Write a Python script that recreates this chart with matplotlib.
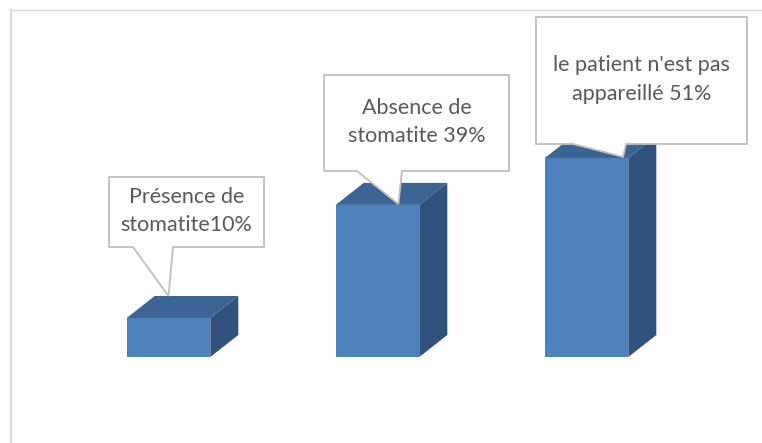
import matplotlib.pyplot as plt
import matplotlib.patches as patches
import numpy as np

# data
categories = ["Présence de\nstomatite10%", "Absence de\nstomatite 39%", "le patient n'est pas\nappareillé 51%"]
values = [10, 39, 51]

W, H = 762, 443
fig = plt.figure(figsize=(W / 100, H / 100), dpi=100)
ax = fig.add_axes([0, 0, 1, 1])
# pixel layout: baseline at y=357, 3.9 px per %, bars 209 px apart
ax.set_xlim(-168.5 / 209, (W - 168.5) / 209)
ax.set_ylim(-(H - 357) / 3.9, 357 / 3.9)
ax.axis('off')

bar_w = 0.4
dx = 28 / 209.0   # depth in x (category units)
dy = 22 / 3.9     # depth in y (% units)
front_c = '#4F81BD'
top_c = '#3C6596'
side_c = '#31527C'

for i, v in enumerate(values):
    x0 = i - bar_w / 2
    x1 = i + bar_w / 2
    ax.add_patch(patches.Polygon([(x0, 0), (x1, 0), (x1, v), (x0, v)],
                                 closed=True, fc=front_c, ec='none', zorder=2))
    ax.add_patch(patches.Polygon([(x0, v), (x1, v), (x1 + dx, v + dy), (x0 + dx, v + dy)],
                                 closed=True, fc=top_c, ec='none', zorder=2))
    ax.add_patch(patches.Polygon([(x1, 0), (x1 + dx, dy), (x1 + dx, v + dy), (x1, v)],
                                 closed=True, fc=side_c, ec='none', zorder=2))

# callout boxes in pixel coords (left, top, right, bottom) and tail base x positions
boxes = [(109, 177, 264, 247), (324, 75, 509, 171), (536, 17, 747, 144)]
tail_base = [(133, 173), (357, 402), (573, 626)]
tip_off = [(0.0, dy), (0.1, 0.2), (0.175, 0.3)]

inv = ax.transData.inverted()

def px2data(px, py):
    return tuple(inv.transform((px, H - py)))

for i, v in enumerate(values):
    l, t, r, b = boxes[i]
    tl, tr = tail_base[i]
    tip = (i + tip_off[i][0], v + tip_off[i][1])
    pts = [px2data(l, t), px2data(r, t), px2data(r, b), px2data(tr, b), tip,
           px2data(tl, b), px2data(l, b)]
    ax.add_patch(patches.Polygon(pts, closed=True, fc='white', ec='#BFBFBF',
                                 lw=1.3, zorder=3, joinstyle='miter'))
    cx, cy = px2data((l + r) / 2, (t + b) / 2 - 1)
    ax.text(cx, cy, categories[i], ha='center', va='center', fontsize=15.5,
            color='#595959', family=['Lato', 'DejaVu Sans'], linespacing=1.55, zorder=4)

# chart border (top and left only visible)
fig.add_artist(plt.Line2D([10 / W, 1], [1 - 10 / H, 1 - 10 / H], transform=fig.transFigure,
                          color='#D9D9D9', lw=1.0))
fig.add_artist(plt.Line2D([11 / W, 11 / W], [0, 1 - 10 / H], transform=fig.transFigure,
                          color='#D9D9D9', lw=1.6))

fig.savefig('out.png', dpi=100)
